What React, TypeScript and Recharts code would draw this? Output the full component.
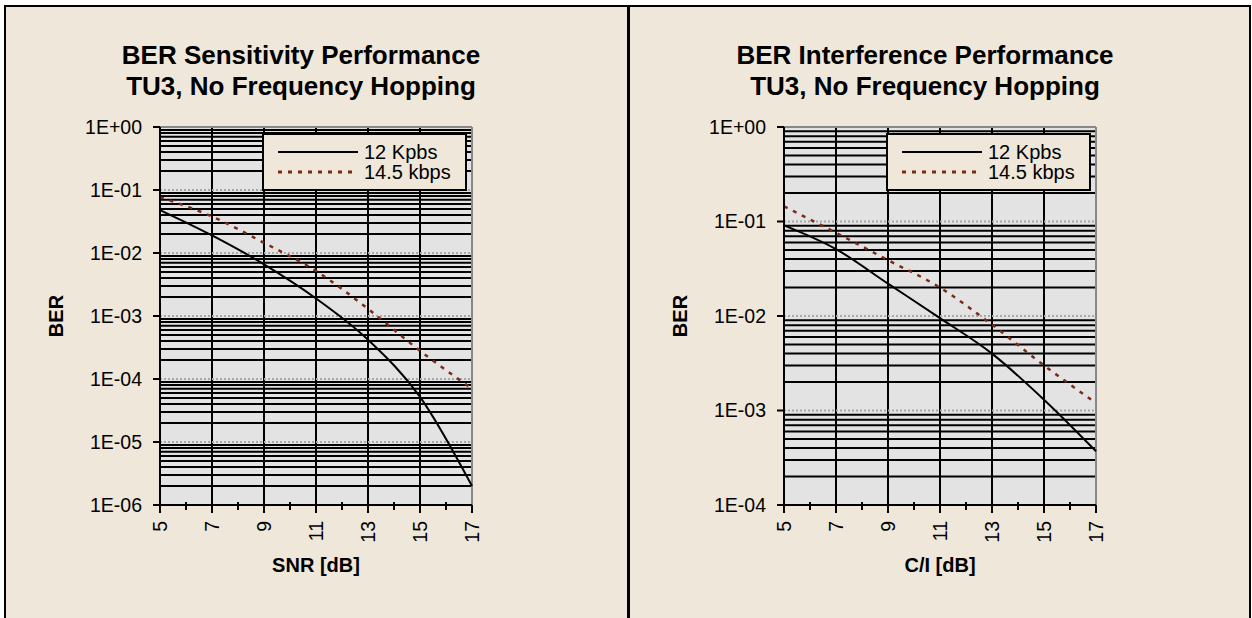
import React from "react";
import {
  LineChart,
  Line,
  XAxis,
  YAxis,
  CartesianGrid,
  ReferenceLine,
  Legend,
  Label,
} from "recharts";

// SNR sweep (dB) and BER
const snrValues = [5, 7, 9, 11, 13, 15, 17];
const sens12 = [4.8e-2, 1.9e-2, 6.6e-3, 1.9e-3, 4.2e-4, 5.2e-5, 2.0e-6];
const sens145 = [7.7e-2, 3.8e-2, 1.45e-2, 5.2e-3, 1.3e-3, 2.8e-4, 7.0e-5];

// C/I sweep (dB) and BER
const ciValues = [5, 7, 9, 11, 13, 15, 17];
const intf12 = [9.1e-2, 5.1e-2, 2.2e-2, 9.5e-3, 4.0e-3, 1.3e-3, 3.7e-4];
const intf145 = [1.45e-1, 7.6e-2, 3.9e-2, 2.0e-2, 8.1e-3, 3.0e-3, 1.2e-3];

const seriesNames = ["12 Kpbs", "14.5 kbps"];
const xTicks = [5, 6, 7, 8, 9, 10, 11, 12, 13, 14, 15, 16, 17];
const xMajor = [5, 7, 9, 11, 13, 15, 17];
const sensDecades = [1, 1e-1, 1e-2, 1e-3, 1e-4, 1e-5, 1e-6];
const intfDecades = [1, 1e-1, 1e-2, 1e-3, 1e-4];

const FONT = '"Liberation Sans", Arial, sans-serif';
const BEIGE = "#efe7d9";
const PLOT_BG = "#e3e3e3";
const BROWN = "#7d2a14";

const fmtSci = (v: number) => {
  const e = Math.round(Math.log10(v));
  return `1E${e < 0 ? "-" : "+"}${String(Math.abs(e)).padStart(2, "0")}`;
};

const minorValues = (decades: number[]) =>
  decades.slice(1).flatMap((d) => [2, 3, 4, 5, 6, 7, 8, 9].map((m) => m * d));

function XTick(props: any) {
  const { x, y, payload } = props;
  const v = payload.value;
  const major = v % 2 === 1;
  return (
    <g>
      <line
        x1={x}
        x2={x}
        y1={major ? y : y - 3}
        y2={y + (major ? 8 : 5)}
        stroke="#000"
        strokeWidth={2}
      />
      {major && (
        <text
          x={x}
          y={y + 16}
          transform={`rotate(-90 ${x} ${y + 16})`}
          textAnchor="end"
          dominantBaseline="central"
          fontSize={19.5}
          fontFamily={FONT}
          fill="#000"
        >
          {v}
        </text>
      )}
    </g>
  );
}

function LegendBox() {
  return (
    <div
      style={{
        width: 205,
        height: 58,
        background: BEIGE,
        border: "2px solid #000",
        fontFamily: FONT,
        fontSize: 20,
        lineHeight: "20px",
        paddingTop: 7,
        boxSizing: "border-box",
      }}
    >
      {seriesNames.map((name, i) => (
        <div key={name} style={{ display: "flex", alignItems: "center", height: 20 }}>
          <svg width={86} height={10} style={{ marginLeft: 14 }}>
            <line
              x1={0}
              x2={80}
              y1={5}
              y2={5}
              stroke={i === 0 ? "#000" : BROWN}
              strokeWidth={i === 0 ? 2 : 3}
              strokeDasharray={i === 0 ? undefined : "4 6"}
            />
          </svg>
          <span>{name}</span>
        </div>
      ))}
    </div>
  );
}

type PanelProps = {
  left: number;
  title: string[];
  xLabel: string;
  xs: number[];
  a: number[];
  b: number[];
  decades: number[];
};

function Panel({ left, title, xLabel, xs, a, b, decades }: PanelProps) {
  const data = xs.map((x, i) => ({ x, a: a[i], b: b[i] }));
  const lo = decades[decades.length - 1];
  return (
    <div style={{ position: "absolute", left, top: 0, width: 620, height: 618 }}>
      <div
        style={{
          position: "absolute",
          left: 90,
          width: 410,
          top: 40,
          textAlign: "center",
          fontFamily: FONT,
          fontWeight: "bold",
          fontSize: 26,
          lineHeight: "31px",
          zIndex: 2,
        }}
      >
        {title.map((t) => (
          <div key={t}>{t}</div>
        ))}
      </div>
      <LineChart
        width={620}
        height={618}
        data={data}
        margin={{ top: 127, right: 154, bottom: 53, left: 20 }}
      >
        <CartesianGrid
          fill={PLOT_BG}
          stroke="#000"
          strokeWidth={2}
          horizontalValues={minorValues(decades)}
          verticalValues={xMajor}
        />
        {decades.map((d) => (
          <ReferenceLine key={d} y={d} stroke="#a8a8a8" strokeWidth={2} strokeDasharray="2 2" />
        ))}
        <ReferenceLine y={1} stroke="#888" strokeWidth={2} />
        <ReferenceLine x={17} stroke="#888" strokeWidth={2} />
        <XAxis
          dataKey="x"
          type="number"
          domain={[5, 17]}
          ticks={xTicks}
          interval={0}
          tick={<XTick />}
          tickLine={false}
          tickSize={0}
          tickMargin={0}
          height={60}
          axisLine={{ stroke: "#000", strokeWidth: 2 }}
        >
          <Label
            value={xLabel}
            position="bottom"
            offset={-7}
            style={{ fontFamily: FONT, fontWeight: "bold", fontSize: 20, fill: "#000" }}
          />
        </XAxis>
        <YAxis
          type="number"
          scale="log"
          domain={[lo, 1]}
          ticks={decades}
          interval={0}
          allowDataOverflow
          tickFormatter={fmtSci}
          width={134}
          tickSize={7}
          tickMargin={11}
          tickLine={{ stroke: "#000", strokeWidth: 2 }}
          axisLine={{ stroke: "#000", strokeWidth: 2 }}
          tick={{ fontFamily: FONT, fontSize: 19.5, fill: "#000" }}
        >
          <Label
            value="BER"
            angle={-90}
            position="insideLeft"
            offset={30}
            textAnchor="middle"
            style={{ fontFamily: FONT, fontWeight: "bold", fontSize: 20, fill: "#000" }}
          />
        </YAxis>
        <Legend
          layout="vertical"
          align="center"
          verticalAlign="middle"
          content={() => <LegendBox />}
          wrapperStyle={{ left: 256, top: 133, width: 205 }}
        />
        <Line
          dataKey="a"
          name={seriesNames[0]}
          type="monotone"
          stroke="#000"
          strokeWidth={2}
          dot={false}
          isAnimationActive={false}
        />
        <Line
          dataKey="b"
          name={seriesNames[1]}
          type="monotone"
          stroke={BROWN}
          strokeWidth={2.5}
          strokeDasharray="4 6"
          dot={false}
          isAnimationActive={false}
        />
      </LineChart>
    </div>
  );
}

export default function App() {
  return (
    <div
      style={{
        position: "absolute",
        left: 0,
        top: 0,
        width: 1252,
        height: 618,
        background: "#fff",
        overflow: "hidden",
      }}
    >
      <div
        style={{
          position: "absolute",
          left: 4,
          top: 5,
          width: 1247,
          height: 640,
          background: BEIGE,
          border: "2px solid #000",
          boxSizing: "border-box",
        }}
      />
      <div
        style={{
          position: "absolute",
          left: 627,
          top: 5,
          width: 3,
          height: 640,
          background: "#000",
        }}
      />
      <Panel
        left={6}
        title={["BER Sensitivity Performance", "TU3, No Frequency Hopping"]}
        xLabel="SNR [dB]"
        xs={snrValues}
        a={sens12}
        b={sens145}
        decades={sensDecades}
      />
      <Panel
        left={630}
        title={["BER Interference Performance", "TU3, No Frequency Hopping"]}
        xLabel="C/I [dB]"
        xs={ciValues}
        a={intf12}
        b={intf145}
        decades={intfDecades}
      />
    </div>
  );
}
